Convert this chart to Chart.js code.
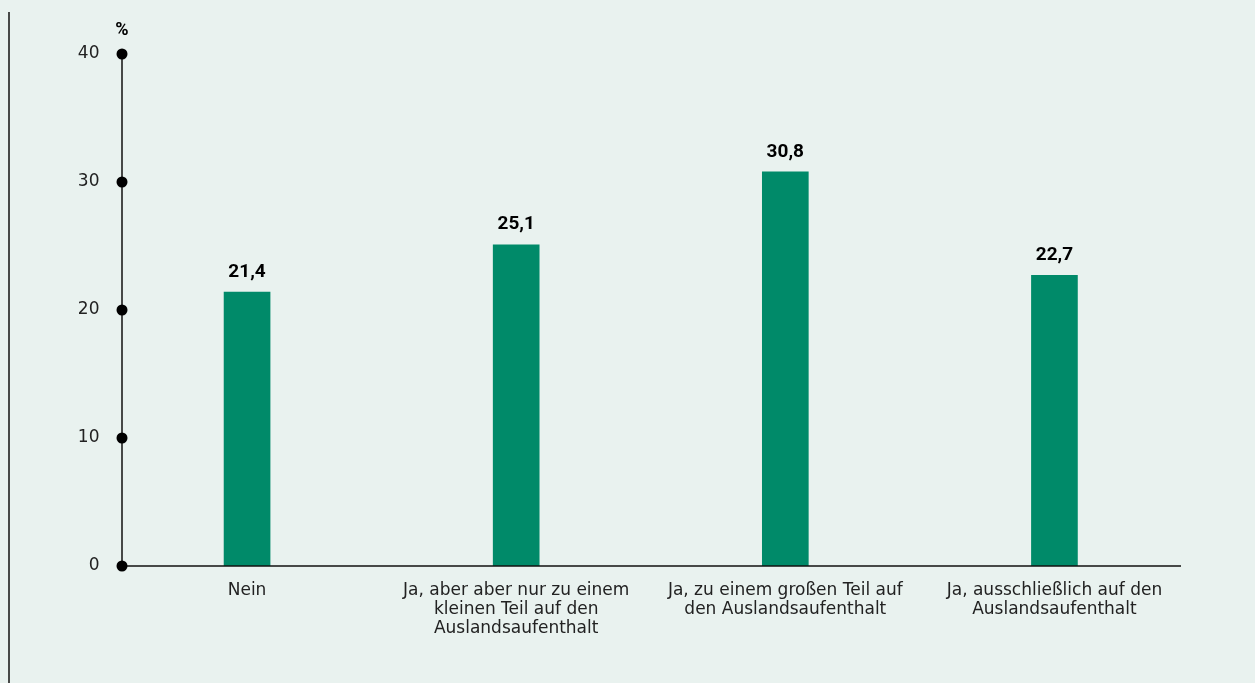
<!DOCTYPE html>
<html>
<head>
<meta charset="utf-8">
<script src="https://cdn.jsdelivr.net/npm/chart.js@4/dist/chart.umd.min.js"></script>
<style>
    html, body { margin: 0; padding: 0; background: #e9f2ef; }
    #wrap { position: relative; width: 1255px; height: 683px; }
</style>
</head>
<body>
<div id="wrap"><canvas id="myChart" width="1255" height="683"></canvas></div>
<script>
const kategorien = [
    'Nein',
    ['Ja, aber aber nur zu einem', 'kleinen Teil auf den', 'Auslandsaufenthalt'],
    ['Ja, zu einem großen Teil auf', 'den Auslandsaufenthalt'],
    ['Ja, ausschließlich auf den', 'Auslandsaufenthalt']
];
const anteile = [21.4, 25.1, 30.8, 22.7];
const yTicks = [0, 10, 20, 30, 40];

const fontFamily = 'Roboto, "Noto Sans", sans-serif';
const labelFont = '"DejaVu Sans", Roboto, sans-serif';

// axis lines, dots, value labels and the frame line on the left
const extras = {
    id: 'extras',
    afterDraw(chart) {
        const ctx = chart.ctx;
        const y = chart.scales.y;
        const axisX = 122;
        const y0 = y.getPixelForValue(0);
        const yTop = y.getPixelForValue(40);

        ctx.save();
        ctx.strokeStyle = '#111';
        ctx.lineWidth = 1.5;

        // left frame line
        ctx.beginPath();
        ctx.moveTo(9, 12);
        ctx.lineTo(9, 683);
        ctx.stroke();

        // y axis
        ctx.beginPath();
        ctx.moveTo(axisX, yTop);
        ctx.lineTo(axisX, y0);
        ctx.stroke();

        // x axis
        ctx.beginPath();
        ctx.moveTo(axisX, y0);
        ctx.lineTo(1181, y0);
        ctx.stroke();

        ctx.fillStyle = '#000';
        for (const t of yTicks) {
            ctx.beginPath();
            ctx.arc(axisX, y.getPixelForValue(t), 5.5, 0, Math.PI * 2);
            ctx.fill();
        }

        // unit
        ctx.font = 'bold 18px ' + fontFamily;
        ctx.textAlign = 'center';
        ctx.textBaseline = 'middle';
        ctx.fillText('%', axisX, 30);

        // value labels
        ctx.font = 'bold 19px ' + fontFamily;
        const meta = chart.getDatasetMeta(0);
        meta.data.forEach(function (bar, i) {
            ctx.fillText(anteile[i].toFixed(1).replace('.', ','), bar.x, bar.y - 20);
        });
        ctx.restore();
    }
};

document.addEventListener('DOMContentLoaded', function () {
    let ctx = document.getElementById('myChart').getContext('2d');

    let chart = new Chart(ctx, {
        type: 'bar',
        data: {
            labels: kategorien,
            datasets: [
                {
                    data: anteile,
                    backgroundColor: '#008a69',
                    barThickness: 46
                }
            ]
        },
        options: {
            responsive: false,
            animation: false,
            layout: { padding: { top: 54, right: 66, left: 0, bottom: 0 } },
            plugins: {
                legend: { display: false },
                tooltip: { enabled: false }
            },
            scales: {
                x: {
                    offset: true,
                    grid: { display: false },
                    border: { display: false },
                    ticks: {
                        color: '#222',
                        font: { family: labelFont, size: 17, lineHeight: '19px' },
                        padding: 7,
                        maxRotation: 0,
                        autoSkip: false
                    },
                    afterFit: function (scale) { scale.height = 117; }
                },
                y: {
                    min: 0,
                    max: 40,
                    afterBuildTicks: function (scale) {
                        scale.ticks = yTicks.map(v => ({ value: v }));
                    },
                    grid: { display: false },
                    border: { display: false },
                    ticks: {
                        color: '#222',
                        font: { family: labelFont, size: 17 },
                        padding: 5
                    },
                    afterFit: function (scale) { scale.width = 112.5; }
                }
            }
        },
        plugins: [extras]
    });
});
</script>
</body>
</html>
